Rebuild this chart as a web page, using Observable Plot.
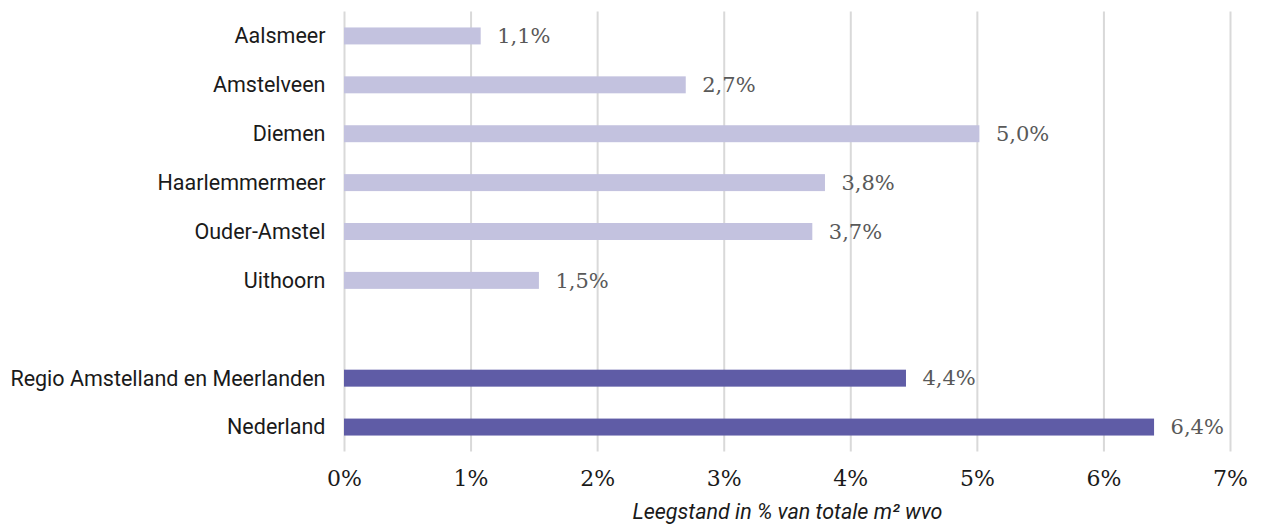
<!DOCTYPE html>
<html>
<head>
<meta charset="utf-8">
<script src="https://cdn.jsdelivr.net/npm/d3@7"></script>
<script src="https://cdn.jsdelivr.net/npm/@observablehq/plot@0.6"></script>
<style>
  html, body { margin: 0; padding: 0; background: #fff; }
  #chart svg { display: block; }
</style>
</head>
<body>
<div id="chart"></div>
<script>
const categories = ["Aalsmeer", "Amstelveen", "Diemen", "Haarlemmermeer", "Ouder-Amstel", "Uithoorn", "Regio Amstelland en Meerlanden", "Nederland"];
const values = [1.08, 2.70, 5.02, 3.80, 3.70, 1.54, 4.44, 6.40];
const groups = ["gemeente", "gemeente", "gemeente", "gemeente", "gemeente", "gemeente", "totaal", "totaal"];
const xTicks = [0, 1, 2, 3, 4, 5, 6, 7];
const axisTitle = "Leegstand in % van totale m² wvo";

const data = categories.map((c, i) => ({name: c, value: values[i], group: groups[i]}));
const yDomain = [...categories.slice(0, 6), " ", ...categories.slice(6)];

const chart = Plot.plot({
  width: 1264,
  height: 525,
  marginLeft: 344,
  marginRight: 34,
  marginTop: 11.5,
  marginBottom: 73.5,
  x: {domain: [0, 7]},
  y: {domain: yDomain, paddingInner: 0.653, paddingOuter: 0.3265, round: false},
  color: {domain: ["gemeente", "totaal"], range: ["#c3c2df", "#5f5ca6"]},
  marks: [
    Plot.gridX(xTicks, {stroke: "#d9d9d9", strokeOpacity: 1, strokeWidth: 2}),
    Plot.barX(data, {y: "name", x: "value", fill: "group"}),
    Plot.text(data, {
      y: "name", x: "value", text: d => d.value.toFixed(1).replace(".", ",") + "%",
      textAnchor: "start", dx: 16, fill: "#595959",
      fontFamily: "'DejaVu Serif', serif", fontSize: 21
    }),
    Plot.axisY({
      tickSize: 0, tickPadding: 19, label: null,
      fontFamily: "Roboto, sans-serif", fontSize: 21.5, color: "#1a1a1a"
    }),
    Plot.axisX({
      ticks: xTicks, tickSize: 0, tickPadding: 18, label: null,
      tickFormat: d => d + "%",
      fontFamily: "'DejaVu Serif', serif", fontSize: 22, color: "#1a1a1a"
    }),
    Plot.text([axisTitle], {
      text: d => d, frameAnchor: "bottom", dy: 67,
      fontFamily: "Roboto, sans-serif", fontStyle: "italic", fontSize: 21.5, fill: "#1a1a1a"
    })
  ]
});
document.getElementById("chart").appendChild(chart);
</script>
</body>
</html>
